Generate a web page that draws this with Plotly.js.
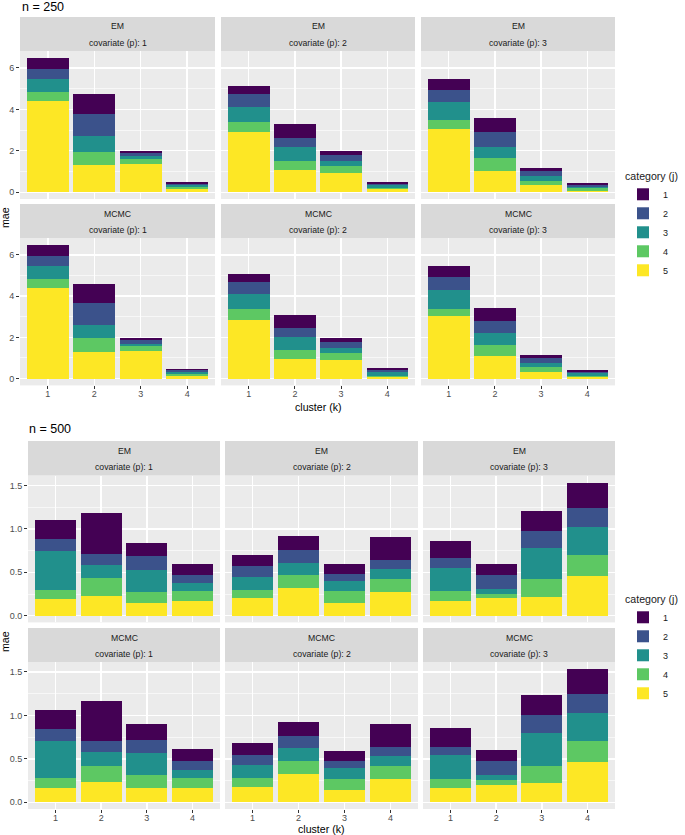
<!DOCTYPE html>
<html><head><meta charset="utf-8">
<script src="https://cdn.plot.ly/plotly-3.0.1.min.js"></script>
<style>html,body{margin:0;padding:0;background:#fff}</style>
</head><body><div id="chart" style="width:685px;height:835px"></div>
<script>
// ---- data ----
const clusters = [1, 2, 3, 4];
const categories = ['1', '2', '3', '4', '5'];
const methods = ['EM', 'MCMC'];
const covariates = [1, 2, 3];
const sampleSizes = [250, 500];
// rows: EM p1, EM p2, EM p3, MCMC p1, MCMC p2, MCMC p3 ; cols: cluster 1..4
const n250_cat1 = [[.53,.96,.08,.10],[.37,.64,.19,.10],[.51,.69,.18,.10],[.54,.95,.08,.08],[.38,.63,.17,.10],[.52,.64,.16,.08]];
const n250_cat2 = [[.49,1.06,.14,.06],[.64,.45,.29,.06],[.58,.69,.22,.08],[.50,1.06,.19,.08],[.61,.40,.29,.08],[.63,.60,.21,.08]];
const n250_cat3 = [[.59,.75,.15,.10],[.72,.67,.23,.15],[.88,.55,.23,.09],[.61,.64,.11,.09],[.73,.66,.25,.19],[.90,.58,.22,.12]];
const n250_cat4 = [[.46,.63,.24,.08],[.49,.44,.33,.06],[.43,.62,.22,.10],[.45,.65,.23,.10],[.50,.41,.33,.05],[.35,.54,.21,.08]];
const n250_cat5 = [[4.40,1.33,1.36,.16],[2.90,1.07,.95,.13],[3.05,1.03,.34,.08],[4.38,1.30,1.35,.13],[2.86,.97,.92,.08],[3.04,1.08,.34,.06]];

const n500_cat1 = [[.22,.47,.15,.13],[.13,.16,.11,.27],[.20,.12,.23,.29],[.22,.47,.18,.14],[.13,.17,.12,.26],[.21,.12,.23,.29]];
const n500_cat2 = [[.14,.13,.16,.09],[.12,.15,.08,.10],[.11,.16,.20,.22],[.14,.12,.15,.095],[.12,.14,.07,.11],[.10,.16,.20,.22]];
const n500_cat3 = [[.44,.15,.26,.10],[.15,.14,.12,.12],[.27,.06,.36,.32],[.42,.16,.26,.095],[.15,.15,.13,.11],[.27,.06,.38,.33]];
const n500_cat4 = [[.11,.20,.12,.11],[.10,.15,.13,.15],[.11,.05,.21,.24],[.12,.19,.15,.11],[.10,.14,.13,.15],[.11,.06,.20,.24]];
const n500_cat5 = [[.19,.23,.15,.17],[.20,.32,.15,.27],[.17,.20,.21,.46],[.16,.23,.16,.17],[.18,.33,.14,.27],[.16,.20,.22,.46]];

// ---- styles / geometry ----
const colors = ['#440154', '#3B528B', '#21908C', '#5DC863', '#FDE725'];
const W = 685, H = 835;
const FONT = 'Liberation Sans, Arial, Helvetica, sans-serif';
const blockData = [
  [n250_cat1, n250_cat2, n250_cat3, n250_cat4, n250_cat5],
  [n500_cat1, n500_cat2, n500_cat3, n500_cat4, n500_cat5]
];
const blocks = [
  { cols: [[20,215],[221,415],[421,615]], rows: [{strip:[17,51], plot:[51,199]}, {strip:[204,238], plot:[238,385.4]}],
    yrange: [-0.33, 6.82], dtick: 2, minor: 1, title: [20, 7], maeY: 218, clusterX: 318, clusterY: 407,
    legendY: 166 },
  { cols: [[28,220],[225,418],[423,615]], rows: [{strip:[441,475.5], plot:[475.5,622.4]}, {strip:[628,662], plot:[662,809]}],
    yrange: [-0.077, 1.615], dtick: 0.5, minor: 0.25, title: [27, 429], maeY: 642, clusterX: 321, clusterY: 829,
    legendY: 589 }
];
const px = x => x / W;
const py = y => 1 - y / H;

const traces = [];
const layout = {
  width: W, height: H,
  margin: {l: 0, r: 0, t: 0, b: 0},
  paper_bgcolor: '#FFFFFF', plot_bgcolor: '#EBEBEB',
  barmode: 'stack', bargap: 0.1,
  font: {family: FONT, color: '#1A1A1A'},
  showlegend: true,
  shapes: [], annotations: []
};

blocks.forEach((B, b) => {
  const legendName = b === 0 ? 'legend' : 'legend2';
  layout[legendName] = {
    x: px(623), y: py(B.legendY), xanchor: 'left', yanchor: 'top',
    traceorder: 'reversed', bgcolor: 'rgba(0,0,0,0)', borderwidth: 0,
    font: {family: FONT, size: 9, color: '#1A1A1A'},
    title: {text: 'category (j)', font: {family: FONT, size: 10.6, color: '#1A1A1A'}},
    itemwidth: 30, tracegroupgap: 0
  };
  B.rows.forEach((R, r) => {
    B.cols.forEach((C, c) => {
      const idx = b * 6 + r * 3 + c + 1;
      const xa = idx === 1 ? 'xaxis' : 'xaxis' + idx;
      const ya = idx === 1 ? 'yaxis' : 'yaxis' + idx;
      const xref = idx === 1 ? 'x' : 'x' + idx;
      const yref = idx === 1 ? 'y' : 'y' + idx;
      const bottomRow = r === 1, leftCol = c === 0;
      layout[xa] = {
        domain: [px(C[0]), px(C[1])], anchor: yref, range: [0.4, 4.6],
        tickvals: clusters, ticktext: clusters.map(String),
        showticklabels: bottomRow, ticks: bottomRow ? 'outside' : '', ticklen: 3, tickwidth: 1, tickcolor: '#333333',
        ticklabelstandoff: -3,
        tickfont: {family: FONT, size: 9, color: '#4D4D4D'},
        showgrid: true, gridcolor: '#FFFFFF', gridwidth: 1.3, zeroline: false, showline: false, fixedrange: true
      };
      layout[ya] = {
        domain: [py(R.plot[1]), py(R.plot[0])], anchor: xref, range: B.yrange,
        dtick: B.dtick, tick0: 0, tickformat: b === 1 ? '.1f' : '',
        showticklabels: leftCol, ticks: leftCol ? 'outside' : '', ticklen: 3, tickwidth: 1, tickcolor: '#333333',
        tickfont: {family: FONT, size: 9, color: '#4D4D4D'},
        showgrid: true, gridcolor: '#FFFFFF', gridwidth: 1.3, zeroline: false, showline: false, fixedrange: true,
        minor: {dtick: B.minor, tick0: 0, showgrid: true, gridcolor: '#FFFFFF', gridwidth: 0.6, ticks: ''}
      };
      // strip background
      layout.shapes.push({type: 'rect', xref: 'paper', yref: 'paper', layer: 'below',
        x0: px(C[0]), x1: px(C[1]), y0: py(R.strip[1]), y1: py(R.strip[0]),
        fillcolor: '#D9D9D9', line: {width: 0}});
      const cx = px((C[0] + C[1]) / 2);
      layout.annotations.push({xref: 'paper', yref: 'paper', x: cx, y: py(R.strip[0] + 9.5),
        text: methods[r], showarrow: false, xanchor: 'center', yanchor: 'middle',
        font: {family: FONT, size: 8.7, color: '#1A1A1A'}});
      layout.annotations.push({xref: 'paper', yref: 'paper', x: cx, y: py(R.strip[0] + 26),
        text: 'covariate (p): ' + covariates[c], showarrow: false, xanchor: 'center', yanchor: 'middle',
        font: {family: FONT, size: 8.7, color: '#1A1A1A'}});
      // bars: stack from category 5 (bottom) to category 1 (top)
      const panel = r * 3 + c;
      for (let j = 4; j >= 0; j--) {
        traces.push({
          type: 'bar', x: clusters, y: blockData[b][j][panel],
          xaxis: xref, yaxis: yref, width: 0.9,
          name: categories[j], legendgroup: 'b' + b + 'c' + j, legend: legendName,
          showlegend: panel === 0,
          marker: {color: colors[j], line: {width: 0}},
          hoverinfo: 'skip'
        });
      }
    });
  });
  // block titles
  layout.annotations.push({xref: 'paper', yref: 'paper', x: px(B.title[0]), y: py(B.title[1]),
    text: 'n = ' + sampleSizes[b], showarrow: false, xanchor: 'left', yanchor: 'middle',
    font: {family: FONT, size: 12.5, color: '#000000'}});
  layout.annotations.push({xref: 'paper', yref: 'paper', x: px(5), y: py(B.maeY),
    text: 'mae', textangle: -90, showarrow: false, xanchor: 'center', yanchor: 'middle',
    font: {family: FONT, size: 10.6, color: '#000000'}});
  layout.annotations.push({xref: 'paper', yref: 'paper', x: px(B.clusterX), y: py(B.clusterY),
    text: 'cluster (k)', showarrow: false, xanchor: 'center', yanchor: 'middle',
    font: {family: FONT, size: 10.6, color: '#000000'}});
});

Plotly.newPlot('chart', traces, layout, {displayModeBar: false, staticPlot: true});
</script></body></html>
